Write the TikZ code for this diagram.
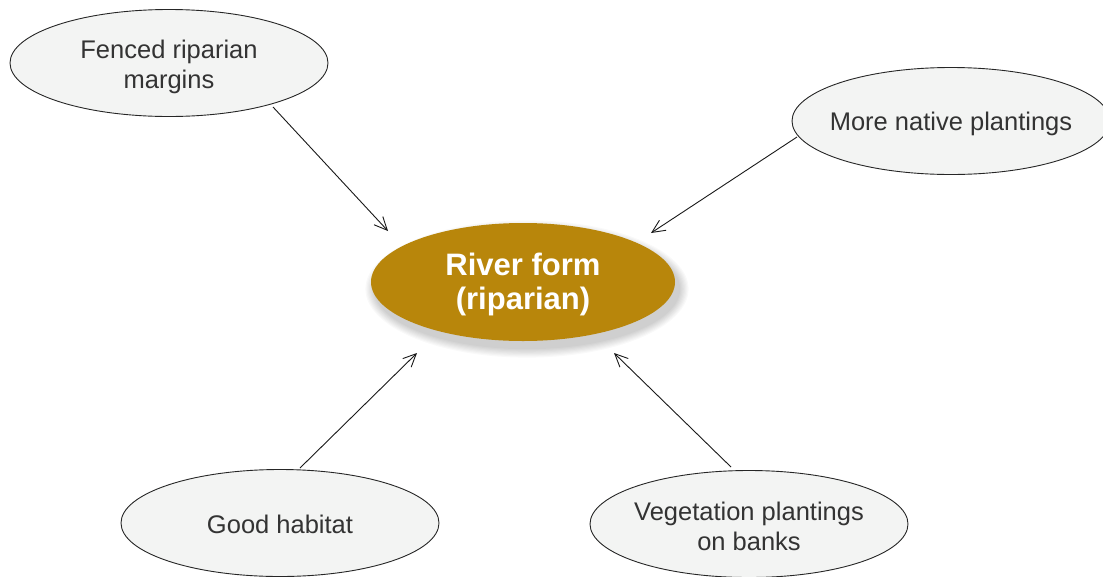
\documentclass[tikz,border=0pt]{standalone}
\usepackage{fontspec}
\setmainfont{Liberation Sans}
\usetikzlibrary{shapes.geometric,arrows.meta}
\definecolor{bubble}{HTML}{F3F4F3}
\definecolor{gold}{HTML}{B8860B}
\definecolor{txt}{HTML}{333333}
\tikzset{
  bub/.style={ellipse,draw=black!85,line width=0.9pt,fill=bubble,inner sep=0pt,
    minimum width=318pt,minimum height=107pt},
  bubtext/.style={inner sep=0pt,text=txt,font=\fontsize{25.5}{30}\selectfont,align=center},
  hub/.style={ellipse,fill=gold,inner sep=0pt,minimum width=304pt,minimum height=118pt},
  hubtext/.style={inner sep=0pt,text=white,font=\bfseries\fontsize{31}{34}\selectfont,align=center},
  link/.style={draw=black!90,line width=0.9pt,-{Straight Barb[length=13pt,width=12pt,line width=0.9pt]}}
}
\begin{document}
\begin{tikzpicture}[x=1pt,y=-1pt]
\useasboundingbox[fill=white] (0,0) rectangle (1103,576);
% soft shadow of hub
\foreach \i in {1,...,8}{
  \fill[black,opacity=0.025] (527,289) ellipse ({152+\i*1.2} and {59+\i*1.2});
}
\node[hub] (hub) at (523,282) {};
\node[hubtext] (hubT) at ([yshift=-2]hub.center) {River form\\(riparian)};
\node[bub] (fenced) at (169,63) {};
\node[bubtext] (fencedT) at ([yshift=-4]fenced.center) {Fenced riparian\\margins};
\node[bub] (native) at (951,121) {};
\node[bubtext] (nativeT) at ([yshift=-3]native.center) {More native plantings};
\node[bub] (habitat) at (280,523) {};
\node[bubtext] (habitatT) at ([yshift=-1.5]habitat.center) {Good habitat};
\node[bub] (veg) at (749,524) {};
\node[bubtext] (vegT) at ([yshift=-2.5]veg.center) {Vegetation plantings\\on banks};
\coordinate (s1) at (273,107);
\coordinate (s2) at (797,137);
\coordinate (s3) at (300,468);
\coordinate (s4) at (731,467);
\coordinate (t1) at (388,231);
\coordinate (t2) at (651,233);
\coordinate (t3) at (417,353);
\coordinate (t4) at (614,353);
\draw[link] (s1) -- (t1);
\draw[link] (s2) -- (t2);
\draw[link] (s3) -- (t3);
\draw[link] (s4) -- (t4);
\end{tikzpicture}
\end{document}
